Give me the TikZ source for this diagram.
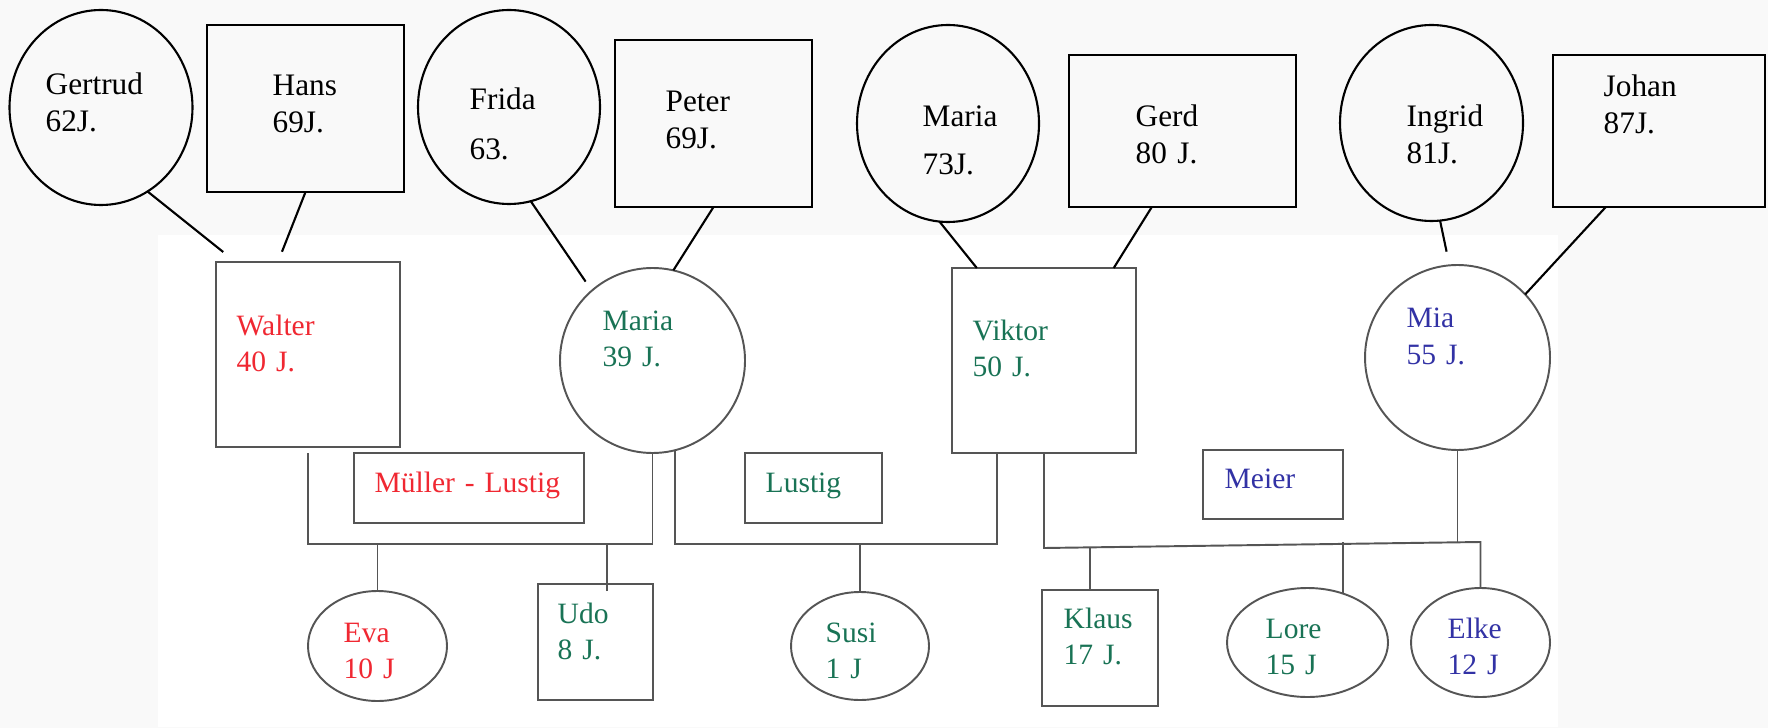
\documentclass[tikz,border=0pt]{standalone}
\usepackage{fontspec}
\setmainfont{Liberation Serif}
\usepackage{tikz}
\usetikzlibrary{shapes.geometric}
\definecolor{bggray}{RGB}{249,249,249}
\definecolor{wred}{RGB}{240,40,50}
\definecolor{lgreen}{RGB}{25,115,85}
\definecolor{mblue}{RGB}{50,50,165}
\definecolor{tiegray}{RGB}{85,85,85}
\tikzset{female/.style = {ellipse, inner sep=0pt, outer sep=0pt},
         male/.style = {rectangle, inner sep=0pt, outer sep=0pt},
         gen1/.style = {draw=black, line width=0.6pt},
         gen2/.style = {draw=tiegray, line width=0.55pt},
         txt/.style = {anchor=base west, inner sep=0pt, text width=3cm, align=left,
                       font=\fontsize{8.9}{10.5}\selectfont},
         kidtxt/.style = {txt, font=\fontsize{8.4}{10.5}\selectfont},
         link/.style = {draw=black, line width=0.6pt},
         tie/.style = {draw=tiegray, line width=0.55pt}}

\begin{document}
\begin{tikzpicture}
    \useasboundingbox (0, 0) rectangle (17.68, -7.28);
    \fill [bggray] (0, 0) rectangle (17.68, -7.28);
    \fill [white] (1.58, -2.35) rectangle (15.58, -7.27);

    \node [female, gen1, minimum width=1.83cm, minimum height=1.95cm] (gertrud) at (1.01, -1.075) {};
    \node [male, gen1, minimum width=1.97cm, minimum height=1.67cm] (hans) at (3.055, -1.085) {};
    \node [female, gen1, minimum width=1.82cm, minimum height=1.94cm] (frida) at (5.09, -1.07) {};
    \node [male, gen1, minimum width=1.97cm, minimum height=1.67cm] (peter) at (7.135, -1.235) {};
    \node [female, gen1, minimum width=1.82cm, minimum height=1.97cm] (oldmaria) at (9.48, -1.235) {};
    \node [male, gen1, minimum width=2.27cm, minimum height=1.52cm] (gerd) at (11.825, -1.31) {};
    \node [female, gen1, minimum width=1.83cm, minimum height=1.96cm] (ingrid) at (14.315, -1.23) {};
    \node [male, gen1, minimum width=2.12cm, minimum height=1.52cm] (johan) at (16.59, -1.31) {};

    \node [txt] (gertrud-t) at (0.45, -0.95) {Gertrud\\62J.};
    \node [txt] (hans-t) at (2.72, -0.96) {Hans\\69J.};
    \node [txt] (frida-t) at (4.69, -1.10) {Frida\\[3.6pt]63.};
    \node [txt] (peter-t) at (6.65, -1.12) {Peter\\69J.};
    \node [txt] (oldmaria-t) at (9.22, -1.27) {Maria\\[3.1pt]73J.};
    \node [txt] (gerd-t) at (11.35, -1.27) {Gerd\\80 J.};
    \node [txt] (ingrid-t) at (14.06, -1.27) {Ingrid\\81J.};
    \node [txt] (johan-t) at (16.03, -0.97) {Johan\\87J.};

    \node [male, gen2, minimum width=1.84cm, minimum height=1.85cm] (walter) at (3.08, -3.545) {};
    \node [female, gen2, minimum width=1.85cm, minimum height=1.85cm] (maria) at (6.525, -3.605) {};
    \node [male, gen2, minimum width=1.84cm, minimum height=1.85cm] (viktor) at (10.44, -3.605) {};
    \node [female, gen2, minimum width=1.85cm, minimum height=1.85cm] (mia) at (14.575, -3.575) {};

    \node [kidtxt, wred] (walter-t) at (2.36, -3.35) {Walter\\40 J.};
    \node [kidtxt, lgreen] (maria-t) at (6.02, -3.30) {Maria\\39 J.};
    \node [kidtxt, lgreen] (viktor-t) at (9.72, -3.40) {Viktor\\50 J.};
    \node [kidtxt, mblue] (mia-t) at (14.06, -3.28) {Mia\\55 J.};

    \node [male, gen2, minimum width=2.30cm, minimum height=0.70cm] (muellerlustig) at (4.69, -4.88) {};
    \node [male, gen2, minimum width=1.37cm, minimum height=0.70cm] (lustig) at (8.135, -4.88) {};
    \node [male, gen2, minimum width=1.40cm, minimum height=0.69cm] (meier) at (12.73, -4.845) {};
    \node [kidtxt, wred] (muellerlustig-t) at (3.74, -4.92) {Müller - Lustig};
    \node [kidtxt, lgreen] (lustig-t) at (7.65, -4.92) {Lustig};
    \node [kidtxt, mblue] (meier-t) at (12.24, -4.88) {Meier};

    \node [female, gen2, minimum width=1.39cm, minimum height=1.10cm] (eva) at (3.775, -6.46) {};
    \node [male, gen2, minimum width=1.15cm, minimum height=1.16cm] (udo) at (5.955, -6.42) {};
    \node [female, gen2, minimum width=1.38cm, minimum height=1.08cm] (susi) at (8.60, -6.46) {};
    \node [male, gen2, minimum width=1.16cm, minimum height=1.16cm] (klaus) at (11.00, -6.48) {};
    \node [female, gen2, minimum width=1.61cm, minimum height=1.09cm] (lore) at (13.075, -6.425) {};
    \node [female, gen2, minimum width=1.39cm, minimum height=1.09cm] (elke) at (14.805, -6.425) {};

    \node [kidtxt, wred] (eva-t) at (3.43, -6.42) {Eva\\10 J};
    \node [kidtxt, lgreen] (udo-t) at (5.57, -6.23) {Udo\\8 J.};
    \node [kidtxt, lgreen] (susi-t) at (8.25, -6.42) {Susi\\1 J};
    \node [kidtxt, lgreen] (klaus-t) at (10.63, -6.28) {Klaus\\17 J.};
    \node [kidtxt, lgreen] (lore-t) at (12.65, -6.38) {Lore\\15 J};
    \node [kidtxt, mblue] (elke-t) at (14.47, -6.38) {Elke\\12 J};

    \draw [link, shorten >=0.16cm] (gertrud.-61) -- (walter.128);
    \draw [link, shorten >=0.11cm] (hans.south) -- (walter.108);
    \draw [link, shorten >=0.11cm] (frida.-77) -- (maria.131);
    \draw [link] (peter.south) -- (maria.77);
    \draw [link] (oldmaria.-95) -- (viktor.126);
    \draw [link] (gerd.-112) -- (viktor.53);
    \draw [link, shorten >=0.14cm] (ingrid.-85) -- (mia.95);
    \draw [link] (johan.-125) -- (mia.43);

    \coordinate (wm) at (3.775, -5.44);
    \coordinate (mv) at (8.60, -5.44);
    \coordinate (vm-l) at (10.44, -5.48);
    \coordinate (vm-r) at (14.805, -5.42);

    \draw [tie, shorten <=0.06cm] (walter.south) -- ++(0, -0.97) -| (maria.south);
    \draw [tie] (eva.north) -- (wm);
    \draw [tie, shorten <=-0.07cm] (udo.79) -- (udo.79 |- wm);
    \draw [tie] (maria.-76) |- (mv) -| (viktor.-117);
    \draw [tie] (susi.north) -- (mv);
    \draw [tie] (viktor.south) -- (vm-l) -- (vm-r) -- (elke.north);
    \draw [tie] (mia.south) -- (mia.south |- vm-r);
    \draw [tie] (klaus.100) -- (klaus.100 |- vm-l);
    \draw [tie] (lore.54) -- (lore.54 |- vm-r);
  \end{tikzpicture}
\end{document}
